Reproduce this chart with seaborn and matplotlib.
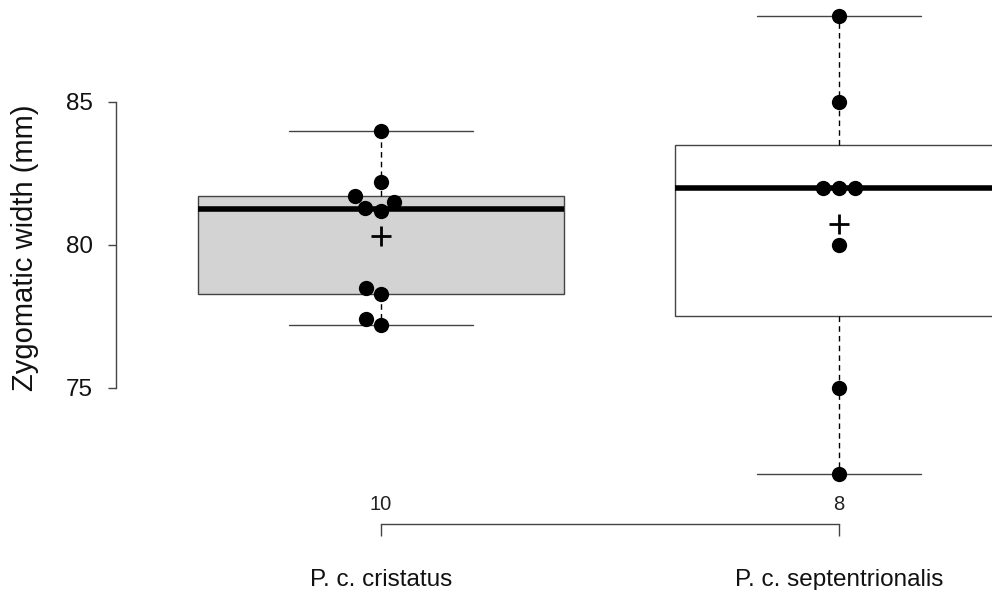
import numpy as np
import pandas as pd
import matplotlib
matplotlib.use("Agg")
import matplotlib.pyplot as plt
import seaborn as sns

# Values
groups = ["P. c. cristatus", "P. c. septentrionalis"]
cristatus = [84.0, 82.2, 81.7, 81.5, 81.3, 81.2, 78.5, 78.3, 77.4, 77.2]
septentrionalis = [88.0, 85.0, 82.0, 82.0, 82.0, 80.0, 75.0, 72.0]
box_fill = ["#d3d3d3", "white"]
y_ticks = [75, 80, 85]
y_label = "Zygomatic width (mm)"

df = pd.DataFrame({
    "group": [groups[0]] * len(cristatus) + [groups[1]] * len(septentrionalis),
    "width": cristatus + septentrionalis,
})


def fivenum(x):
    # Tukey hinges, like R's boxplot
    x = np.sort(np.asarray(x, dtype=float))
    n = len(x)
    n4 = np.floor((n + 3) / 2) / 2
    d = np.array([1, n4, (n + 1) / 2, n + 1 - n4, n]) - 1
    return 0.5 * (x[np.floor(d).astype(int)] + x[np.ceil(d).astype(int)])


sns.set_style("ticks")
plt.rcParams["font.family"] = ["Liberation Sans", "DejaVu Sans"]

W, H = 992, 590
fig = plt.figure(figsize=(W / 100, H / 100), dpi=100)
# axes: left edge at x=116 px, top at 0 px, bottom at 494 px
ax = fig.add_axes([116 / W, (H - 494) / H, (W - 116) / W, 494 / H])

data = [cristatus, septentrionalis]
ns = [len(d) for d in data]
widths = [0.8 * np.sqrt(n) / np.sqrt(max(ns)) for n in ns]

stats = []
for d in data:
    lo, q1, med, q3, hi = fivenum(d)
    stats.append({"whislo": lo, "q1": q1, "med": med, "q3": q3, "whishi": hi,
                  "mean": np.mean(d), "fliers": []})

bp = ax.bxp(stats, positions=[0, 1], widths=widths,
            capwidths=[w / 2 for w in widths], patch_artist=True,
            showmeans=False, zorder=1,
            boxprops=dict(edgecolor="#444444", linewidth=1.0),
            medianprops=dict(color="black", linewidth=4, solid_capstyle="butt"),
            whiskerprops=dict(color="black", linewidth=1.0, linestyle=(0, (4, 3))),
            capprops=dict(color="#444444", linewidth=1.0))
for patch, c in zip(bp["boxes"], box_fill):
    patch.set_facecolor(c)

sns.swarmplot(data=df, x="group", y="width", order=groups, color="black",
              size=11, ax=ax, zorder=3)

means = df.groupby("group", sort=False)["width"].mean()
ax.plot(range(len(groups)), means.values, linestyle="none", marker="+",
        color="black", markersize=15, markeredgewidth=2, zorder=4)

for i, n in enumerate(ns):
    ax.annotate(str(n), xy=(i, 0), xycoords=("data", "axes fraction"),
                xytext=(0, -11), textcoords="offset pixels",
                ha="center", va="center", fontsize=14.5, color="#222222")

ax.set_xlim((116 - 381) / 458, (W - 381) / 458)
ax.set_ylim(85 - 494 / 28.6 + 102 / 28.6, 85 + 102 / 28.6)

ax.set_yticks(y_ticks)
ax.set_yticklabels([str(t) for t in y_ticks])
ax.set_xticks(range(len(groups)))
ax.set_xticklabels(groups)

sns.despine(ax=ax, top=True, right=True)
ax.spines["left"].set_bounds(min(y_ticks), max(y_ticks))
ax.spines["bottom"].set_bounds(0, len(groups) - 1)
ax.spines["bottom"].set_position(("outward", 21.6))
for side in ["left", "bottom"]:
    ax.spines[side].set_color("#444444")
    ax.spines[side].set_linewidth(1.0)

ax.tick_params(axis="y", length=5.8, width=1.0, color="#444444",
               pad=11, labelsize=17.5, labelcolor="#111111")
ax.tick_params(axis="x", length=8.6, width=1.0, color="#444444",
               pad=24, labelsize=17.5, labelcolor="#111111")

ax.set_xlabel("")
ax.set_ylabel(y_label, fontsize=21, color="#111111")
ax.yaxis.label.set_va("center")
ax.yaxis.set_label_coords((25 - 116) / (W - 116), (494 - 248) / 494)

fig.savefig("out.png", dpi=100)
